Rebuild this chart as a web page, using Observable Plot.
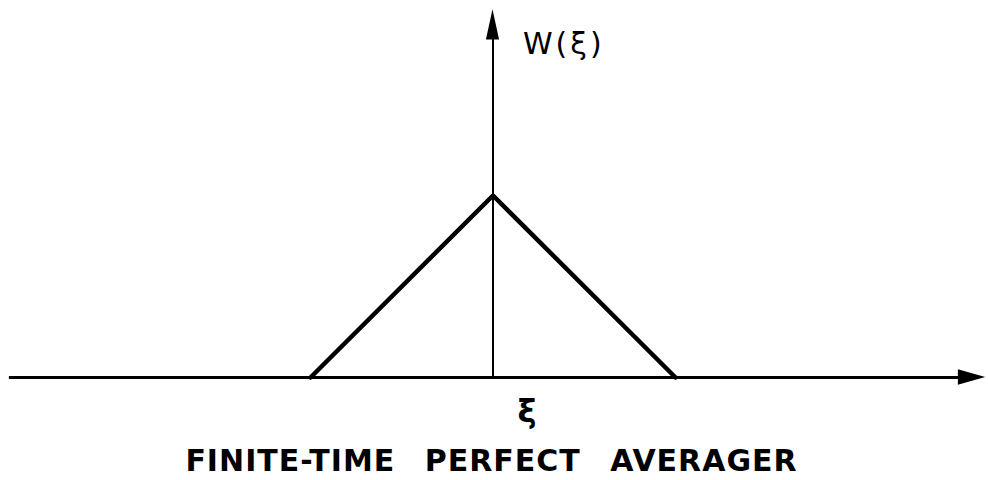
<!DOCTYPE html>
<html><head><meta charset="utf-8">
<script src="https://cdn.jsdelivr.net/npm/d3@7"></script>
<script src="https://cdn.jsdelivr.net/npm/@observablehq/plot@0.6"></script>
<style>body{margin:0;background:#fff} svg{display:block}</style>
</head><body><div id="chart"></div>
<script>
// Triangular weighting function of the finite-time perfect averager
const xi = [-1, 0, 1];
const w = [0, 1, 0];
// Axis extents (data units)
const xAxisExtent = [-2.65, 2.70];
const yAxisExtent = [0, 2.02];
const yLabel = "W(ξ)";
const xLabel = "ξ";
const title = "FINITE-TIME PERFECT AVERAGER";

const tri = xi.map((x, i) => ({x, y: w[i]}));
const [xa0, xa1] = xAxisExtent;
const [ya0, ya1] = yAxisExtent;
const headL = 0.15, headW = 0.042;     // horizontal arrowhead
const vHeadL = 0.165, vHeadW = 0.036;  // vertical arrowhead

const chart = Plot.plot({
  width: 988,
  height: 480,
  margin: 0,
  x: {type: "linear", domain: [-1, 1], range: [310, 675], axis: null},
  y: {type: "linear", domain: [0, 1], range: [377, 195], axis: null},
  style: {background: "#fff"},
  marks: [
    // horizontal axis
    Plot.ruleY([0], {x1: xa0, x2: xa1 - headL * 0.8, stroke: "#000", strokeWidth: 3}),
    Plot.areaY([{x: xa1 - headL, y1: -headW, y2: headW}, {x: xa1, y1: 0, y2: 0}],
      {x: "x", y1: "y1", y2: "y2", fill: "#000"}),
    // vertical axis
    Plot.ruleX([0], {y1: ya0, y2: ya1 - vHeadL * 0.8, stroke: "#000", strokeWidth: 2}),
    Plot.areaX([{y: ya1 - vHeadL, x1: -vHeadW, x2: vHeadW}, {y: ya1, x1: 0, x2: 0}],
      {y: "y", x1: "x1", x2: "x2", fill: "#000"}),
    // triangle
    Plot.line(tri, {x: "x", y: "y", stroke: "#000", strokeWidth: 4.5, strokeLinejoin: "miter"}),
    // labels
    Plot.text([yLabel], {x: 0.164, y: 1.83, text: d => d, textAnchor: "start",
      fontSize: 30, fontFamily: "DejaVu Sans", fill: "#000"}),
    Plot.text([xLabel], {x: 0.186, y: -0.187, text: d => d,
      fontSize: 32, fontFamily: "DejaVu Sans", fontWeight: "bold", fill: "#000"}),
    Plot.text([title], {frameAnchor: "bottom", lineAnchor: "bottom", dy: -10, dx: -3, text: d => d,
      fontSize: 30, fontFamily: "DejaVu Sans", fontWeight: "bold", fill: "#000"})
  ]
});
d3.select(chart).selectAll("text").filter(function(){ return this.textContent === title; })
  .attr("letter-spacing", "1px").attr("word-spacing", "18px");
d3.select(chart).selectAll("text").filter(function(){ return this.textContent === yLabel; })
  .attr("letter-spacing", "3px");
document.getElementById("chart").append(chart);
</script>
</body></html>
